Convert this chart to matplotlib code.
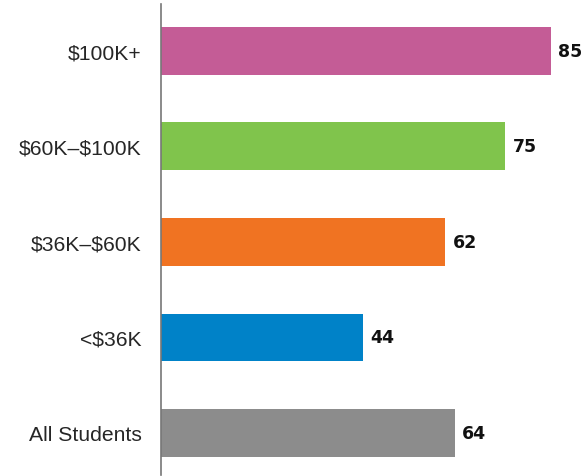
import matplotlib
matplotlib.use("Agg")
import matplotlib.pyplot as plt

categories = ["All Students", "<$36K", "$36K\u2013$60K", "$60K\u2013$100K", "$100K+"]
values = [64, 44, 62, 75, 85]
colors = ["#8C8C8C", "#0082C8", "#F07322", "#80C44C", "#C45C96"]

plt.rcParams['font.family'] = ['Liberation Sans', 'DejaVu Sans']
plt.rcParams['text.parse_math'] = False

fig = plt.figure(figsize=(5.86, 4.77), dpi=100)
ax = fig.add_axes([161/586, 1-476/477, 425/586, 471/477])

pos = list(range(len(categories)))
ax.barh(pos, values, height=0.5, color=colors)
for p, v in zip(pos, values):
    ax.text(v + 1.6, p, str(v), va='center', ha='left', fontsize=12.5,
            fontweight='bold', color='#111111', family='DejaVu Sans')

ax.set_xlim(0, 425/4.588)
ax.set_ylim(-0.44, 4.49)
ax.set_yticks(pos)
ax.set_yticklabels(categories, fontsize=15.2, color='#262626')
ax.tick_params(axis='y', length=0, pad=14)
ax.set_xticks([])
for s in ['top', 'right', 'bottom']:
    ax.spines[s].set_visible(False)
ax.spines['left'].set_color('#777777')
ax.spines['left'].set_linewidth(1.2)

fig.savefig("out.png", dpi=100)
